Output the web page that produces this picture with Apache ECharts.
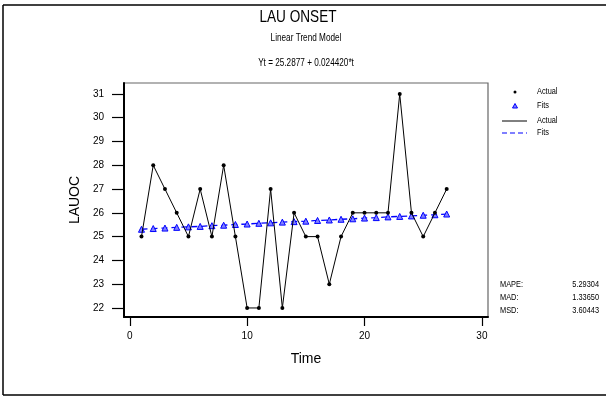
<!DOCTYPE html>
<html><head><meta charset="utf-8">
<script src="https://cdn.jsdelivr.net/npm/echarts@6/dist/echarts.min.js"></script>
<style>html,body{margin:0;padding:0;background:#fff}#c{width:606px;height:396px}</style>
</head><body><div id="c"></div>
<script>
var timeIdx = [1,2,3,4,5,6,7,8,9,10,11,12,13,14,15,16,17,18,19,20,21,22,23,24,25,26,27];
var actual = [25,28,27,26,25,27,25,28,25,22,22,27,22,26,25,25,23,25,26,26,26,26,31,26,25,26,27];
var fits = [25.31,25.34,25.36,25.39,25.41,25.43,25.46,25.48,25.51,25.53,25.56,25.58,25.61,25.63,25.65,25.68,25.70,25.73,25.75,25.78,25.80,25.83,25.85,25.87,25.90,25.92,25.95];
var xTicks = [0,10,20,30];
var yTicks = [22,23,24,25,26,27,28,29,30,31];
var statNames = ['MAPE:','MAD:','MSD:'];
var statValues = ['5.29304','1.33650','3.60443'];

var FONT = "'Liberation Sans Narrow','Liberation Sans',Arial,sans-serif";
function pairs(xs, ys){ return xs.map(function(x,i){return [x, ys[i]];}); }

var chart = echarts.init(document.getElementById('c'), null, {renderer:'canvas'});
var g = [];
function txt(s, x, y, size, align, sx){
  g.push({type:'text', x:x, y:y, scaleX:sx||0.82, style:{text:s, font:size+'px '+FONT, fill:'#000', align:align||'left', verticalAlign:'middle'}});
}
// outer border
g.push({type:'line', shape:{x1:3,y1:5,x2:606,y2:5}, style:{stroke:'#000',lineWidth:1.5}});
g.push({type:'line', shape:{x1:3,y1:5,x2:3,y2:395}, style:{stroke:'#000',lineWidth:1.5}});
g.push({type:'line', shape:{x1:3,y1:395,x2:606,y2:395}, style:{stroke:'#000',lineWidth:1.5}});
// titles
txt('LAU ONSET', 298, 17, 17, 'center', 0.8);
txt('Linear Trend Model', 306, 38, 10, 'center');
txt('Yt = 25.2877 + 0.024420*t', 306, 63, 10, 'center');
// legend
g.push({type:'circle', shape:{cx:515,cy:92,r:1.5}, style:{fill:'#000'}});
txt('Actual', 537, 92, 9, 'left');
g.push({type:'polygon', shape:{points:[[515,103.5],[512.5,108],[517.5,108]]}, style:{fill:'#8080ff', stroke:'#0000ff', lineWidth:1}});
txt('Fits', 537, 106, 9, 'left');
g.push({type:'line', shape:{x1:502,y1:121,x2:527,y2:121}, style:{stroke:'#000',lineWidth:1}});
txt('Actual', 537, 121, 9, 'left');
g.push({type:'line', shape:{x1:502,y1:133,x2:527,y2:133}, style:{stroke:'#0000ff',lineWidth:1.2,lineDash:[5,3]}});
txt('Fits', 537, 133, 9, 'left');
// stats
statNames.forEach(function(n,i){
  var y = 285 + i*13;
  txt(n, 500, y, 9, 'left');
  txt(statValues[i], 599, y, 9, 'right');
});

chart.setOption({
  animation:false,
  backgroundColor:'#fff',
  grid:{left:124, top:83, right:118, bottom:79, show:true, borderColor:'#666', borderWidth:1.2, backgroundColor:'transparent'},
  xAxis:{type:'value', min:-0.49, max:30.52, name:'Time', nameLocation:'middle', nameGap:35,
    nameTextStyle:{fontFamily:FONT, fontSize:14, color:'#000'},
    splitLine:{show:false},
    axisLine:{show:true, onZero:false, lineStyle:{color:'#000', width:2}},
    axisTick:{show:true, length:9, customValues:xTicks, lineStyle:{color:'#000', width:1.2}},
    axisLabel:{customValues:xTicks, fontFamily:FONT, fontSize:10, color:'#000', margin:14}},
  yAxis:{type:'value', min:21.62, max:31.46, name:'LAUOC', nameLocation:'middle', nameGap:38, nameRotate:90,
    nameTextStyle:{fontFamily:FONT, fontSize:14, color:'#000'},
    splitLine:{show:false},
    axisLine:{show:true, onZero:false, lineStyle:{color:'#000', width:2}},
    axisTick:{show:true, length:12, customValues:yTicks, lineStyle:{color:'#000', width:1.2}},
    axisLabel:{customValues:yTicks, fontFamily:FONT, fontSize:10, color:'#000', margin:20}},
  series:[
    {type:'line', data:pairs(timeIdx, fits), symbol:'triangle', symbolSize:6, showSymbol:true,
     lineStyle:{color:'#0000ff', width:1.3, type:[6,4]}, itemStyle:{color:'#8080ff', borderColor:'#0000ff', borderWidth:1}, z:2},
    {type:'line', data:pairs(timeIdx, actual), symbol:'circle', symbolSize:4, showSymbol:true,
     lineStyle:{color:'#000', width:1}, itemStyle:{color:'#000'}, z:3}
  ],
  graphic:g
});
</script></body></html>
